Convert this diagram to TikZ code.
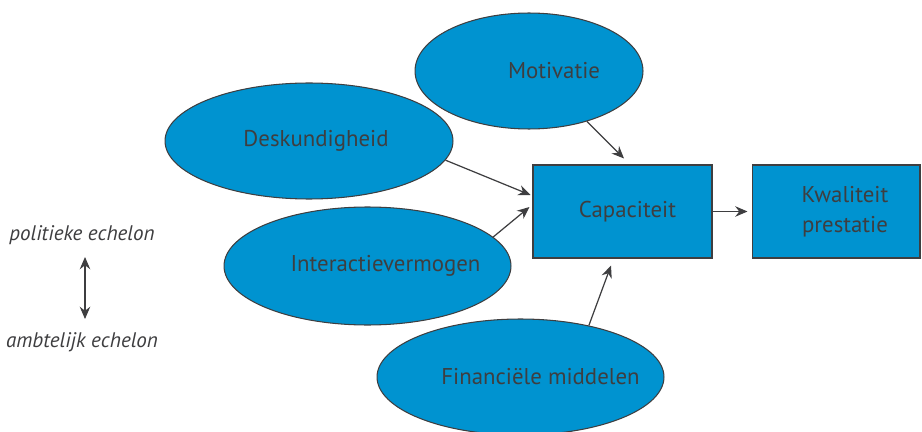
\documentclass[tikz,border=0pt]{standalone}
\usepackage{fontspec}
\setmainfont{PT Sans}
\usepackage{xcolor}
\definecolor{myb}{RGB}{0, 147, 208}
\definecolor{myd}{RGB}{62, 62, 64}
\usetikzlibrary{arrows.meta, calc, shapes.geometric}

\begin{document}
\begin{tikzpicture}[x=0.02cm, y=-0.02cm,
    ovaal/.style={draw=myd, line width=0.6pt, ellipse, fill=myb, inner sep=0pt},
    blok/.style={draw=myd, line width=0.6pt, rectangle, fill=myb, inner sep=0pt},
    tekst/.style={text=myd, font=\fontsize{13}{17}\selectfont, align=center, inner sep=0pt},
    echelon/.style={text=myd, font=\fontsize{12}{16}\selectfont\itshape, inner sep=0pt},
    pijl/.style={-{Stealth[length=7pt, width=6pt, inset=2.3pt]}, line width=0.7pt, draw=myd},
    dubbel/.style={{Stealth[length=7pt, width=6pt, inset=2.3pt]}-{Stealth[length=7pt, width=6pt, inset=2.3pt]}, line width=0.7pt, draw=myd}]
    \useasboundingbox (0,0) rectangle (922,432);
        % ovalen met de factoren
        \foreach \naam/\x/\y/\bw/\bh/\dx/\woord in {mot/529/71/4.56/2.32/25/Motivatie, desk/309/141/5.76/2.32/7/Deskundigheid, inter/367.5/266/5.74/2.36/18/Interactievermogen, fin/520.5/377/5.74/2.32/20/{Financiële middelen}}
        {
            \node[ovaal, minimum width=\bw cm, minimum height=\bh cm, label={[tekst, xshift=\dx*0.569pt]center:\woord}] (\naam) at (\x,\y) {};
        }
        % blokken
        \foreach \naam/\x/\bw/\dx/\woord in {cap/622.5/3.58/5/Capaciteit, kwal/836/3.36/9/{Kwaliteit\\prestatie}}
        {
            \node[blok, minimum width=\bw cm, minimum height=1.86cm, label={[tekst, xshift=\dx*0.569pt]center:{\woord}}] (\naam) at (\x,211.5) {};
        }
        \draw[pijl] (mot.-41) -- ($(cap.north)+(1.5,-6)$);
        \draw[pijl] (desk.-8) -- ($(cap.west)+(-2,-16.5)$);
        \draw[pijl] (inter.13) -- ($(cap.west)+(-3,-4.5)$);
        \draw[pijl] (fin.37) -- ($(cap.south)+(-11.5,7)$);
        \draw[pijl] (cap.east) -- ($(kwal.west)+(-4,0)$);
        % echelons
        \node[echelon] (pol) at (82,235) {politieke echelon};
        \node[echelon] (amb) at (82,342) {ambtelijk echelon};
        \draw[dubbel] ($(pol.center)+(3,22)$) -- ($(amb.center)+(3,-23)$);
    \end{tikzpicture}
\end{document}
